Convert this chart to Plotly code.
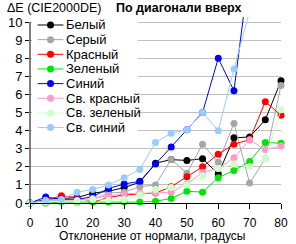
import plotly.graph_objects as go

degrees = [0, 5, 10, 15, 20, 25, 30, 35, 40, 45, 50, 55, 60, 65, 70, 75, 80]

names = ["Белый", "Серый", "Красный", "Зеленый", "Синий",
         "Св. красный", "Св. зеленый", "Св. синий"]
colors = ["#000000", "#A6A6A6", "#FF0000", "#00E600", "#0000FF",
          "#FF99CC", "#CCFFCC", "#99CCFF"]

white = [0, 0.2, 0.25, 0.3, 0.55, 0.65, 0.85, 1.15, 2.2, 2.4, 2.35, 2.45, 1.6, 3.6, 3.65, 4.6, 6.75]
gray = [0, 0.1, 0.15, 0.2, 0.2, 0.55, 0.6, 0.9, 1.0, 2.4, 1.65, 3.25, 2.25, 4.4, 1.1, 2.45, 6.5]
red = [0, 0.15, 0.4, 0.3, 0.05, 0.3, 0.45, 0.5, 0.55, 0.9, 1.45, 2.0, 2.7, 3.25, 3.5, 5.6, 4.85]
green = [0, 0, 0.05, 0.05, 0.05, 0.05, 0.05, 0.05, 0.1, 0.25, 0.65, 0.6, 1.4, 1.8, 2.3, 3.35, 3.3]
blue = [0, 0.33, 0.2, 0.2, 0.35, 0.8, 1.05, 1.2, 2.15, 3.1, 4.05, 5.0, 8.0, 6.2, 13.0, None, None]
light_red = [0, 0.05, 0.15, 0.15, 0.25, 0.4, 0.5, 0.55, 0.55, 0.6, 1.05, 1.7, 1.9, 2.5, 3.5, 2.95, 3.15]
light_green = [0, 0.05, 0.1, 0.1, 0.2, 0.15, 0.2, 0.45, 0.75, 0.85, 1.0, 1.5, 1.9, 2.15, 2.0, 2.45, 5.15]
light_blue = [0, 0.15, 0.2, 0.6, 0.75, 1.0, 1.4, 1.85, 3.35, 3.85, 4.05, 5.0, 4.0, 7.4, 10.6, None, None]

series = [white, gray, red, green, blue, light_red, light_green, light_blue]

y_ticks = list(range(0, 11))
x_ticks = list(range(0, 81, 10))

FONT = "Liberation Sans, Arial, sans-serif"

W, H = 296, 244
ML, MR, MT, MB = 25, 8, 17, 41
PW = W - ML - MR
PH = H - MT - MB


def px_x(p):
    return (p - ML) / PW


def px_y(p):
    return (H - MB - p) / PH


fig = go.Figure()
for name, col, vals in zip(names, colors, series):
    fig.add_trace(go.Scatter(
        x=degrees, y=vals, name=name, mode="lines+markers",
        line=dict(color=col, width=1),
        marker=dict(color=col, size=7, symbol="circle"),
        cliponaxis=(name == "Св. синий"),
        showlegend=False,
        connectgaps=False,
    ))

shapes = []
# y axis line from 0 to 10
shapes.append(dict(type="line", xref="paper", yref="y", x0=0, x1=0, y0=0, y1=10,
                   line=dict(color="black", width=1), layer="above"))
# legend background
shapes.append(dict(type="rect", xref="paper", yref="paper",
                   x0=px_x(27), x1=px_x(138), y0=px_y(137), y1=1,
                   fillcolor="white", line=dict(width=0), layer="above"))

annotations = []
for i, (name, col) in enumerate(zip(names, colors)):
    yp = px_y(25 + 14.65 * i)
    shapes.append(dict(type="line", xref="paper", yref="paper",
                       x0=px_x(33), x1=px_x(60), y0=yp, y1=yp,
                       line=dict(color=col, width=1), layer="above"))
    shapes.append(dict(type="circle", xref="paper", yref="paper",
                       xsizemode="pixel", ysizemode="pixel",
                       xanchor=px_x(46.5), yanchor=yp,
                       x0=-3.5, x1=3.5, y0=-3.5, y1=3.5,
                       fillcolor=col, line=dict(color=col, width=0), layer="above"))
    annotations.append(dict(text=name, xref="paper", yref="paper",
                            x=px_x(61), y=yp, xanchor="left", yanchor="middle",
                            showarrow=False, font=dict(size=13, color="black", family=FONT)))

annotations.append(dict(text="ΔE (CIE2000DE)", xref="paper", yref="paper",
                        x=px_x(0), y=px_y(0), xanchor="left", yanchor="top",
                        showarrow=False, borderpad=0,
                        font=dict(size=12.5, color="black", family=FONT)))
annotations.append(dict(text="<b>По диагонали вверх</b>", xref="paper", yref="paper",
                        x=px_x(181.5), y=px_y(0), xanchor="center", yanchor="top",
                        showarrow=False, borderpad=0,
                        font=dict(size=12.5, color="black", family=FONT)))
annotations.append(dict(text="Отклонение от нормали, градусы", xref="paper", yref="paper",
                        x=px_x(153), y=px_y(244), xanchor="center", yanchor="bottom",
                        showarrow=False, borderpad=0,
                        font=dict(size=12, color="black", family=FONT)))

fig.update_layout(
    width=W, height=H,
    margin=dict(l=ML, r=MR, t=MT, b=MB, pad=0),
    paper_bgcolor="white", plot_bgcolor="white",
    font=dict(family=FONT, size=13, color="black"),
    shapes=shapes, annotations=annotations,
    showlegend=False,
    xaxis=dict(range=[0, 80], tickvals=x_ticks, ticks="outside", ticklen=5,
               tickcolor="black", showgrid=False, showline=True, linecolor="black",
               linewidth=1, zeroline=False, tickfont=dict(size=12), ticklabelstandoff=4),
    yaxis=dict(range=[0, 10.28], tickvals=y_ticks, ticks="outside", ticklen=4,
               tickcolor="black", showgrid=True, gridcolor="#C0C0C0", gridwidth=1,
               showline=False, zeroline=False, tickfont=dict(size=13)),
)

fig.write_html("out.html")
